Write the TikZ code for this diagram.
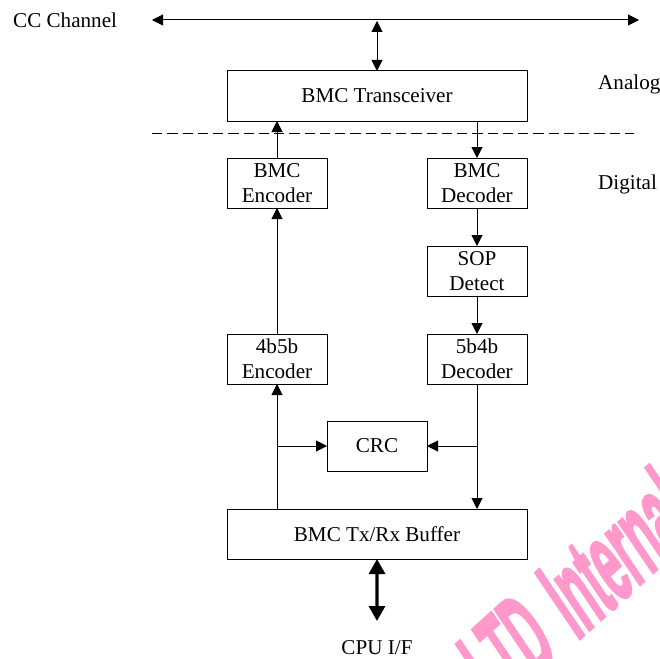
\documentclass[tikz,border=0pt]{standalone}
\usepackage{fontspec}
\setmainfont{Liberation Serif}
\newfontfamily\wmfont[FakeBold=3]{Liberation Sans}
\definecolor{wm}{HTML}{FF99CC}
\usetikzlibrary{arrows.meta}
\tikzset{
  x=1bp,y=-1bp,
  blk/.style={draw=black,line width=1bp,outer sep=0pt,minimum width=100bp,minimum height=50bp,inner sep=0pt,align=center,font=\fontsize{21.2}{25}\selectfont,anchor=north west},
  wide/.style={blk,minimum width=300bp},
  lbl/.style={inner sep=0pt,font=\fontsize{21.2}{25}\selectfont},
  con/.style={line width=1bp,-{Triangle[length=11bp,width=11bp]}},
  bicon/.style={line width=1bp,{Triangle[length=11bp,width=11bp]}-{Triangle[length=11bp,width=11bp]}},
  fat/.style={line width=3.2bp,{Triangle[length=15bp,width=16bp]}-{Triangle[length=15bp,width=16bp]}},
}
\begin{document}
\begin{tikzpicture}
\useasboundingbox (0,0) rectangle (660,659);
\begin{scope}
\clip (0,0) rectangle (660,659);
\node[text=wm,font=\wmfont\bfseries\fontsize{114}{114}\selectfont,rotate=42,xslant=0.14,xscale=0.4,inner sep=0pt,anchor=base west] (wm) at (577,641) {\llap{LTD\hspace{0.48em}}Internal};
\end{scope}
\node[wide] (tr) at (227,71) {BMC Transceiver};
\node[blk] (enc) at (227,158) {BMC\\Encoder};
\node[blk] (dec) at (427,158) {BMC\\Decoder};
\node[blk] (sop) at (427,246) {SOP\\Detect};
\node[blk] (e4) at (227,334) {4b5b\\Encoder};
\node[blk] (d5) at (427,334) {5b4b\\Decoder};
\node[blk] (crc) at (327,421) {CRC};
\node[wide] (buf) at (227,509) {BMC Tx/Rx Buffer};
\node[lbl,anchor=west] (cc) at (13,20) {CC Channel};
\node[lbl,anchor=west] (an) at (598,84.5) {Analog};
\node[lbl,anchor=west] (di) at (598,184.5) {Digital};
\node[lbl] (cpu) at (377,647.5) {CPU I/F};
\coordinate (bl) at (152,20);
\coordinate (br) at (639,20);
\coordinate (bm) at (377,21);
\coordinate (dl) at (152,133);
\coordinate (dr) at (634,133);
\coordinate (cpuend) at (377,621);
\draw[bicon] (bl) -- (br);
\draw[bicon] (tr.north |- bm) -- (tr.north);
\draw[line width=1bp,dash pattern=on 10.3bp off 4.95bp] (dl) -- (dr);
\draw[con] (enc.north) -- (enc.north |- tr.south);
\draw[con] (dec.north |- tr.south) -- (dec.north);
\draw[con] (dec.south) -- (sop.north);
\draw[con] (sop.south) -- (d5.north);
\draw[con] (e4.north) -- (enc.south);
\draw[con] (e4.south |- buf.north) -- (e4.south);
\draw[con] (d5.south) -- (d5.south |- buf.north);
\draw[con] (e4.south |- crc.west) -- (crc.west);
\draw[con] (d5.south |- crc.east) -- (crc.east);
\draw[fat] (buf.south) -- (cpuend);
\end{tikzpicture}
\end{document}
